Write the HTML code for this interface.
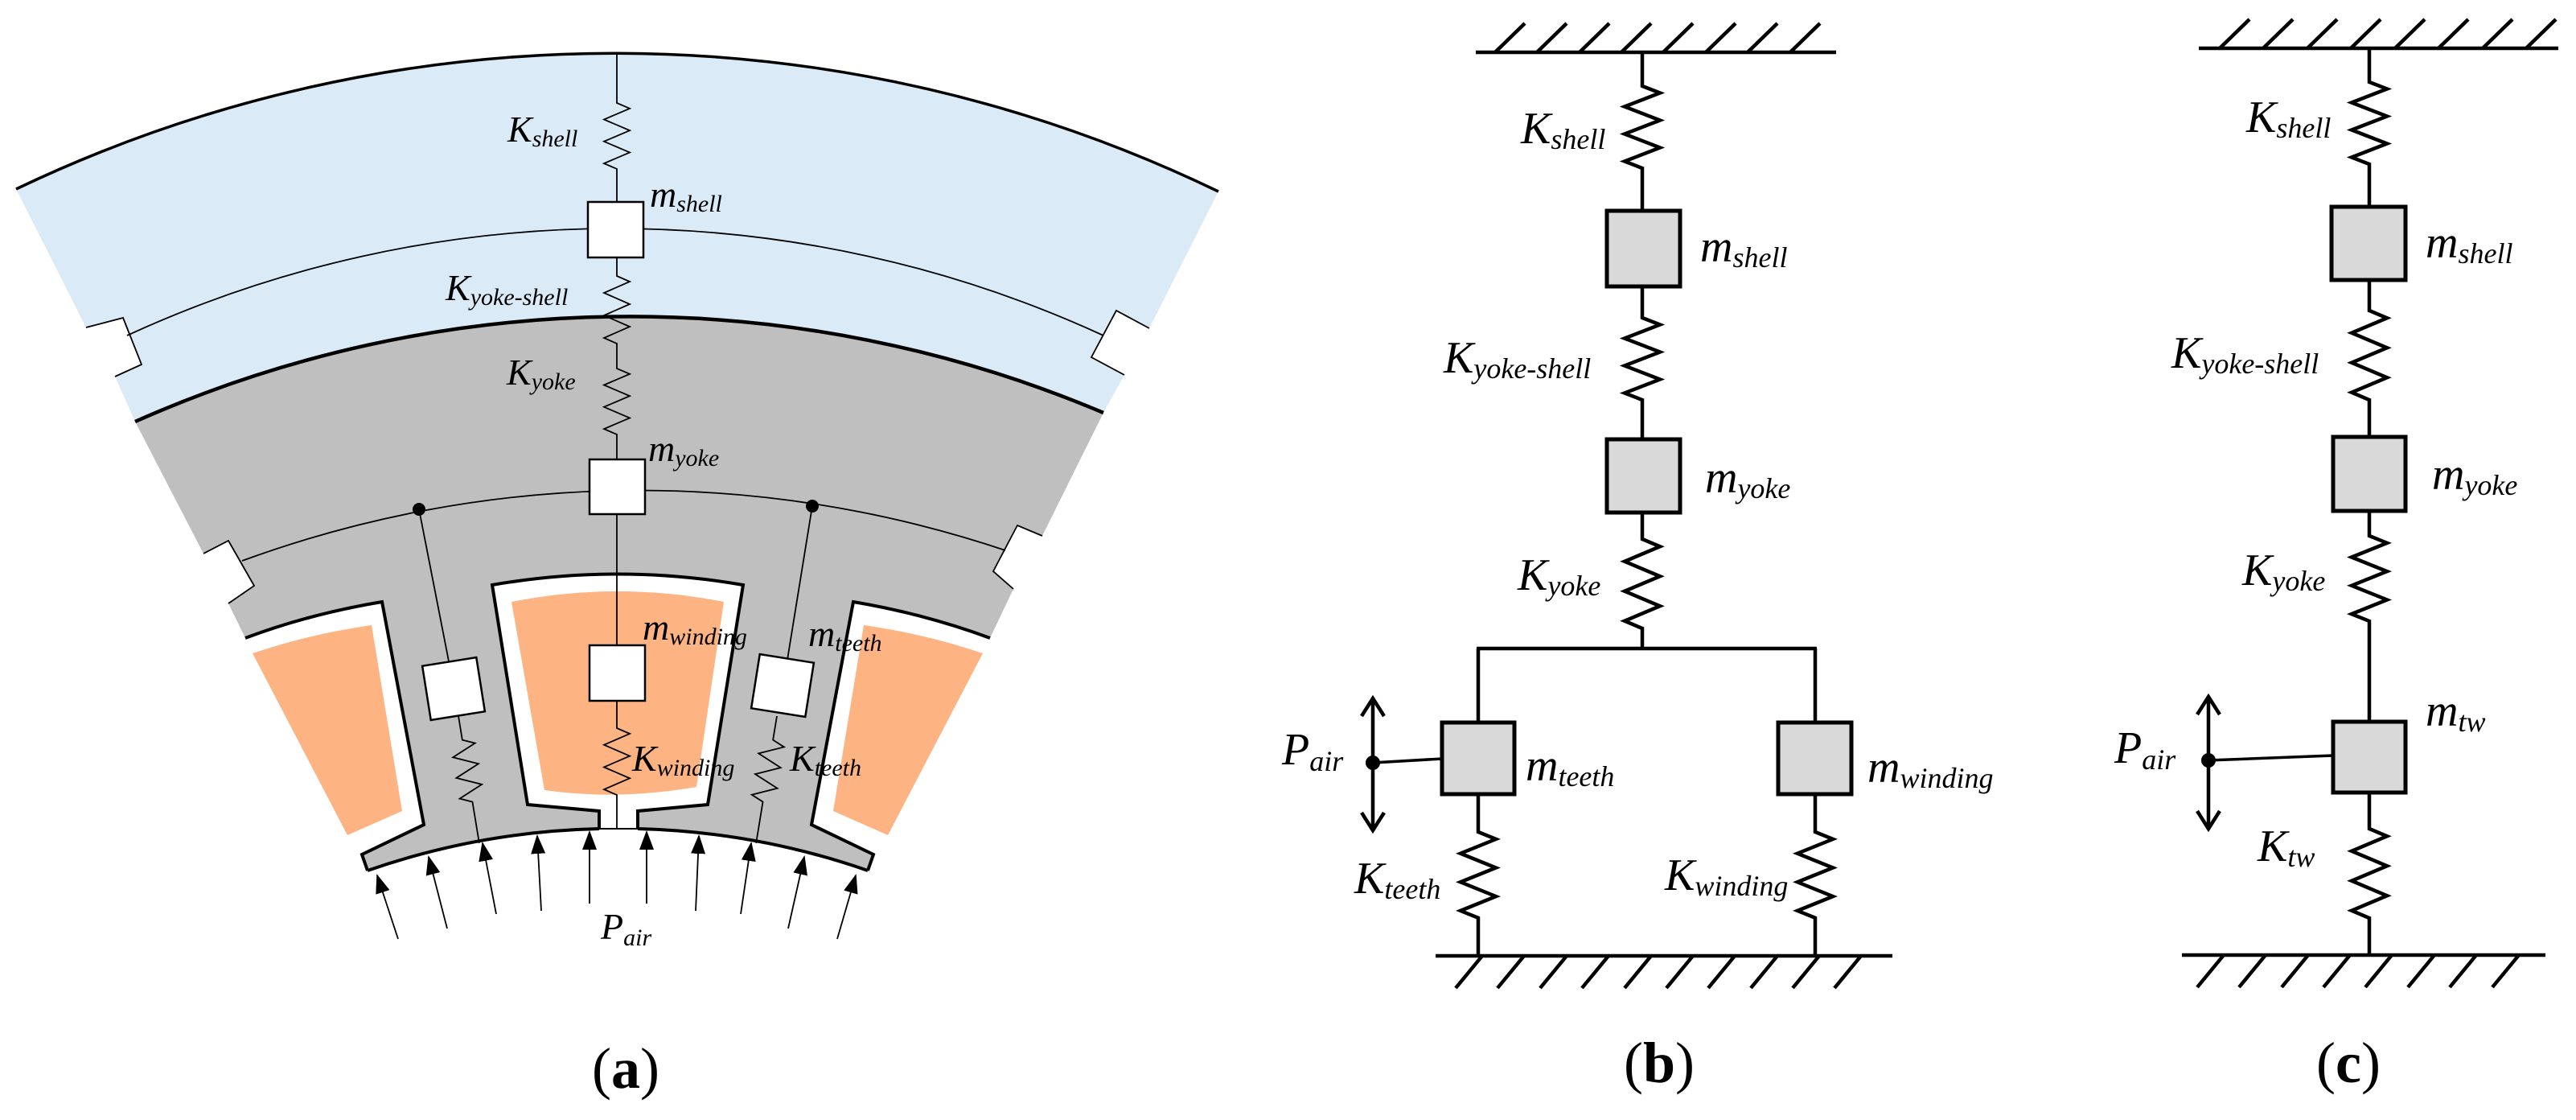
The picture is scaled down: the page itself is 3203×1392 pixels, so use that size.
<!DOCTYPE html>
<html><head><meta charset="utf-8"><style>
html,body{margin:0;padding:0;background:#fff;}
svg{display:block;}
text{font-family:"Liberation Serif","DejaVu Serif",serif;font-style:italic;fill:#000;}
.lab{font-style:normal;}
</style></head><body>
<svg width="3203" height="1392" viewBox="0 0 3203 1392" xmlns="http://www.w3.org/2000/svg">
<defs>
<marker id="ah" markerUnits="userSpaceOnUse" markerWidth="24" markerHeight="18" refX="22" refY="9" orient="auto">
<path d="M0,0 L24,9 L0,18 Z" fill="#000"/>
</marker>
</defs>

<!-- ===== PANEL A ===== -->
<!-- shell (blue) -->
<path d="M20,235 A1726,1726 0 0 1 1515,238 L1429,408 L1388,386 L1357,444 L1398,466 L1372,513 A1512,1512 0 0 0 168,524 L143,468 L176,453 L153,395 L107,407 Z" fill="#dbeaf7" stroke="none"/>
<!-- gray yoke / teeth -->
<path d="M168,524 A1512,1512 0 0 1 1372,513 L1296,666 L1265,653 L1235,710 L1260,732 L1231,793 Q1150,763 1061,748 L1009,1025 L1086,1062 L1079,1082 A939,939 0 0 0 790,1030 L793,1008 L880,1000 L924,727 Q768,700 612,727 L656,1000 L745,1008 L746,1030 A939,939 0 0 0 457,1082 L450,1062 L527,1025 L475,748 Q385,763 305,793 L284,750 L316,728 L284,672 L253,688 Z" fill="#bfbfbf"/>
<!-- slot white areas -->
<path d="M305,793 Q385,763 475,748 L527,1025 L450,1062 L441,1062 Z" fill="#fff"/>
<path d="M1231,793 Q1150,763 1061,748 L1009,1025 L1086,1062 L1095,1062 Z" fill="#fff"/>
<path d="M612,727 Q768,700 924,727 L880,1000 L793,1008 L793,1030 L745,1030 L745,1008 L656,1000 Z" fill="#fff"/>
<!-- orange windings -->
<path d="M314,812 Q385,788 462,777 L500,1008 L432,1038 Z" fill="#fdb382"/>
<path d="M1222,812 Q1151,788 1074,777 L1036,1008 L1104,1038 Z" fill="#fdb382"/>
<path d="M636,748 Q768,722 900,748 L866,978 Q768,995 677,982 Z" fill="#fdb382"/>
<!-- outlines -->
<path d="M20,235 A1726,1726 0 0 1 1515,238" fill="none" stroke="#000" stroke-width="3.5"/>
<path d="M168,524 A1512,1512 0 0 1 1372,513" fill="none" stroke="#000" stroke-width="4.5"/>
<path d="M158,417 A1452,1452 0 0 1 1372,417" fill="none" stroke="#000" stroke-width="1.8"/>
<path d="M301,697 A1433,1433 0 0 1 1250,684" fill="none" stroke="#000" stroke-width="1.8"/>
<path d="M107,407 L153,395 L176,453 L143,468" fill="none" stroke="#000" stroke-width="1.8"/>
<path d="M1429,408 L1388,386 L1357,444 L1398,466" fill="none" stroke="#000" stroke-width="1.8"/>
<path d="M253,688 L284,672 L316,728 L284,750" fill="none" stroke="#000" stroke-width="1.8"/>
<path d="M1296,666 L1265,653 L1235,710 L1260,732" fill="none" stroke="#000" stroke-width="1.8"/>
<path d="M305,793 Q385,763 475,748 L527,1025 L450,1062 L457,1082" fill="none" stroke="#000" stroke-width="4"/>
<path d="M1231,793 Q1150,763 1061,748 L1009,1025 L1086,1062 L1079,1082" fill="none" stroke="#000" stroke-width="4"/>
<path d="M745,1030 L745,1008 L656,1000 L612,727 Q768,700 924,727 L880,1000 L793,1008 L793,1030" fill="none" stroke="#000" stroke-width="4"/>
<path d="M457,1082 A939,939 0 0 1 745,1030" fill="none" stroke="#000" stroke-width="4"/>
<path d="M793,1030 A939,939 0 0 1 1079,1082" fill="none" stroke="#000" stroke-width="4"/>
<path d="M745,1030 L793,1030" fill="none" stroke="#000" stroke-width="2"/>

<!-- central chain -->
<g fill="none" stroke="#000" stroke-width="1.8">
<path d="M767,67 V128 l16,6.83 l-32,13.66 l32,13.66 l-32,13.66 l32,13.66 l-32,13.66 l16,6.83 V251"/>
<path d="M767,320 V343 l16,7 l-32,14 l32,14 l-32,14 l32,14 l-32,14 l16,7 V458 l16,6.83 l-32,13.66 l32,13.66 l-32,13.66 l32,13.66 l-32,13.66 l16,6.83 V573"/>
<path d="M767,639 V802"/>
<path d="M767,871 V905 l16,6.92 l-32,13.84 l32,13.84 l-32,13.84 l32,13.84 l-32,13.84 l16,6.92 V1030"/>
<!-- left tooth -->
<path d="M521,633 L558,822"/>
<g transform="translate(570,890) rotate(-9.3)"><path d="M0,0 v30 l15,6.5 l-30,13 l30,13 l-30,13 l30,13 l-30,13 l15,6.5 v52"/></g>
<!-- right tooth -->
<path d="M1010,629 L979,820"/>
<g transform="translate(966,890) rotate(9.3)"><path d="M0,0 v30 l15,6.5 l-30,13 l30,13 l-30,13 l30,13 l-30,13 l15,6.5 v52"/></g>
</g>
<rect x="731" y="251" width="69" height="69" fill="#fff" stroke="#000" stroke-width="2.5"/>
<rect x="733" y="571" width="69" height="68" fill="#fff" stroke="#000" stroke-width="2.5"/>
<rect x="733" y="802" width="69" height="69" fill="#fff" stroke="#000" stroke-width="2.5"/>
<rect x="-34" y="-34" width="68" height="68" fill="#fff" stroke="#000" stroke-width="2.5" transform="translate(564,856) rotate(-9)"/>
<rect x="-34" y="-34" width="68" height="68" fill="#fff" stroke="#000" stroke-width="2.5" transform="translate(973,852) rotate(9)"/>
<circle cx="521" cy="633" r="8" fill="#000"/>
<circle cx="1010" cy="629" r="8" fill="#000"/>

<!-- Pair arrows -->
<g stroke="#000" stroke-width="1.8" marker-end="url(#ah)">
<line x1="495" y1="1167" x2="469" y2="1088"/>
<line x1="556" y1="1154" x2="533" y2="1065"/>
<line x1="617" y1="1136" x2="600" y2="1048"/>
<line x1="673" y1="1132" x2="668" y2="1039"/>
<line x1="733" y1="1123" x2="733" y2="1034"/>
<line x1="804" y1="1123" x2="804" y2="1034"/>
<line x1="865" y1="1132" x2="869" y2="1039"/>
<line x1="921" y1="1136" x2="934" y2="1048"/>
<line x1="980" y1="1154" x2="1000" y2="1065"/>
<line x1="1041" y1="1167" x2="1064" y2="1088"/>
</g>

<!-- labels a -->
<g font-size="46">
<text x="631" y="176">K<tspan font-size="30" dy="6">shell</tspan></text>
<text x="808" y="257">m<tspan font-size="30" dy="6">shell</tspan></text>
<text x="554" y="373">K<tspan font-size="30" dy="6">yoke-shell</tspan></text>
<text x="630" y="478">K<tspan font-size="30" dy="6">yoke</tspan></text>
<text x="806" y="573">m<tspan font-size="30" dy="6">yoke</tspan></text>
<text x="799" y="795">m<tspan font-size="30" dy="6">winding</tspan></text>
<text x="1005" y="803">m<tspan font-size="30" dy="6">teeth</tspan></text>
<text x="786" y="958">K<tspan font-size="30" dy="6">winding</tspan></text>
<text x="982" y="958">K<tspan font-size="30" dy="6">teeth</tspan></text>
<text x="747" y="1167">P<tspan font-size="30" dy="8">air</tspan></text>
</g>
<text class="lab" x="778" y="1352" font-size="72" text-anchor="middle">(<tspan font-weight="bold">a</tspan>)</text>

<!-- ===== PANEL B ===== -->
<g fill="none" stroke="#000" stroke-width="4.5">
<path d="M1835,65 H2283"/>
<path d="M1859,65 l37,-36 M1911,65 l37,-36 M1964,65 l37,-36 M2016,65 l37,-36 M2068,65 l37,-36 M2121,65 l37,-36 M2173,65 l37,-36 M2226,65 l37,-36"/>
<path d="M2042,65 V107 l22,8.5 l-44,17 l44,17 l-44,17 l44,17 l-44,17 l22,8.5 V262"/>
<path d="M2042,356 V395 l22,8.5 l-44,17 l44,17 l-44,17 l44,17 l-44,17 l22,8.5 V546"/>
<path d="M2042,637 V670 l22,9.25 l-44,18.5 l44,18.5 l-44,18.5 l44,18.5 l-44,18.5 l22,9.25 V806"/>
<path d="M1836,806 H2259"/>
<path d="M1838,806 V898"/>
<path d="M2257,806 V898"/>
<path d="M1838,987 V1034 l22,8.9 l-44,17.8 l44,17.8 l-44,17.8 l44,17.8 l-44,17.8 l22,8.9 V1188"/>
<path d="M2257,987 V1034 l22,8.9 l-44,17.8 l44,17.8 l-44,17.8 l44,17.8 l-44,17.8 l22,8.9 V1188"/>
<path d="M1785,1188 H2353"/>
<path d="M1843,1188 l-33,40 M1895,1188 l-33,40 M1948,1188 l-33,40 M2000,1188 l-33,40 M2053,1188 l-33,40 M2105,1188 l-33,40 M2157,1188 l-33,40 M2210,1188 l-33,40 M2262,1188 l-33,40 M2314,1188 l-33,40"/>
<path d="M1707,868 V1032 M1693,890 L1707,868 L1721,890 M1693,1010 L1707,1032 L1721,1010"/>
<path d="M1707,948 L1793,943" stroke-width="3.5"/>
</g>
<g fill="#d9d9d9" stroke="#000" stroke-width="5">
<rect x="1998" y="262" width="91" height="94"/>
<rect x="1998" y="546" width="91" height="91"/>
<rect x="1793" y="898" width="90" height="89"/>
<rect x="2211" y="898" width="91" height="89"/>
</g>
<circle cx="1707" cy="948" r="9" fill="#000"/>
<g font-size="56">
<text x="1891" y="178">K<tspan font-size="36" dy="7">shell</tspan></text>
<text x="2114" y="325">m<tspan font-size="36" dy="7">shell</tspan></text>
<text x="1795" y="463">K<tspan font-size="36" dy="7">yoke-shell</tspan></text>
<text x="2120" y="612">m<tspan font-size="36" dy="7">yoke</tspan></text>
<text x="1887" y="733">K<tspan font-size="36" dy="7">yoke</tspan></text>
<text x="1594" y="950">P<tspan font-size="36" dy="8">air</tspan></text>
<text x="1897" y="970">m<tspan font-size="36" dy="7">teeth</tspan></text>
<text x="2322" y="972">m<tspan font-size="36" dy="7">winding</tspan></text>
<text x="1684" y="1110">K<tspan font-size="36" dy="7">teeth</tspan></text>
<text x="2070" y="1106">K<tspan font-size="36" dy="7">winding</tspan></text>
</g>
<text class="lab" x="2063" y="1345" font-size="72" text-anchor="middle">(<tspan font-weight="bold">b</tspan>)</text>

<!-- ===== PANEL C ===== -->
<g fill="none" stroke="#000" stroke-width="4.5">
<path d="M2734,60 H3181"/>
<path d="M2760,60 l37,-36 M2814,60 l37,-36 M2869,60 l37,-36 M2923,60 l37,-36 M2978,60 l37,-36 M3032,60 l37,-36 M3087,60 l37,-36 M3141,60 l37,-36"/>
<path d="M2946,60 V102 l22,8.5 l-44,17 l44,17 l-44,17 l44,17 l-44,17 l22,8.5 V257"/>
<path d="M2946,348 V386 l22,9.25 l-44,18.5 l44,18.5 l-44,18.5 l44,18.5 l-44,18.5 l22,9.25 V543"/>
<path d="M2946,635 V666 l22,8.83 l-44,17.66 l44,17.66 l-44,17.66 l44,17.66 l-44,17.66 l22,8.83 V897"/>
<path d="M2946,985 V1030 l22,9.25 l-44,18.5 l44,18.5 l-44,18.5 l44,18.5 l-44,18.5 l22,9.25 V1187"/>
<path d="M2713,1187 H3165"/>
<path d="M2765,1187 l-33,40 M2817,1187 l-33,40 M2870,1187 l-33,40 M2922,1187 l-33,40 M2974,1187 l-33,40 M3027,1187 l-33,40 M3079,1187 l-33,40 M3132,1187 l-33,40"/>
<path d="M2746,866 V1030 M2732,888 L2746,866 L2760,888 M2732,1008 L2746,1030 L2760,1008"/>
<path d="M2746,945 L2901,939" stroke-width="3.5"/>
</g>
<g fill="#d9d9d9" stroke="#000" stroke-width="5">
<rect x="2899" y="257" width="92" height="91"/>
<rect x="2901" y="543" width="90" height="92"/>
<rect x="2901" y="897" width="90" height="88"/>
</g>
<circle cx="2746" cy="945" r="9" fill="#000"/>
<g font-size="56">
<text x="2793" y="164">K<tspan font-size="36" dy="7">shell</tspan></text>
<text x="3016" y="320">m<tspan font-size="36" dy="7">shell</tspan></text>
<text x="2700" y="457">K<tspan font-size="36" dy="7">yoke-shell</tspan></text>
<text x="3024" y="608">m<tspan font-size="36" dy="7">yoke</tspan></text>
<text x="2788" y="727">K<tspan font-size="36" dy="7">yoke</tspan></text>
<text x="3016" y="902">m<tspan font-size="36" dy="7">tw</tspan></text>
<text x="2629" y="948">P<tspan font-size="36" dy="8">air</tspan></text>
<text x="2807" y="1070">K<tspan font-size="36" dy="7">tw</tspan></text>
</g>
<text class="lab" x="2920" y="1345" font-size="72" text-anchor="middle">(<tspan font-weight="bold">c</tspan>)</text>
</svg>
</body></html>
